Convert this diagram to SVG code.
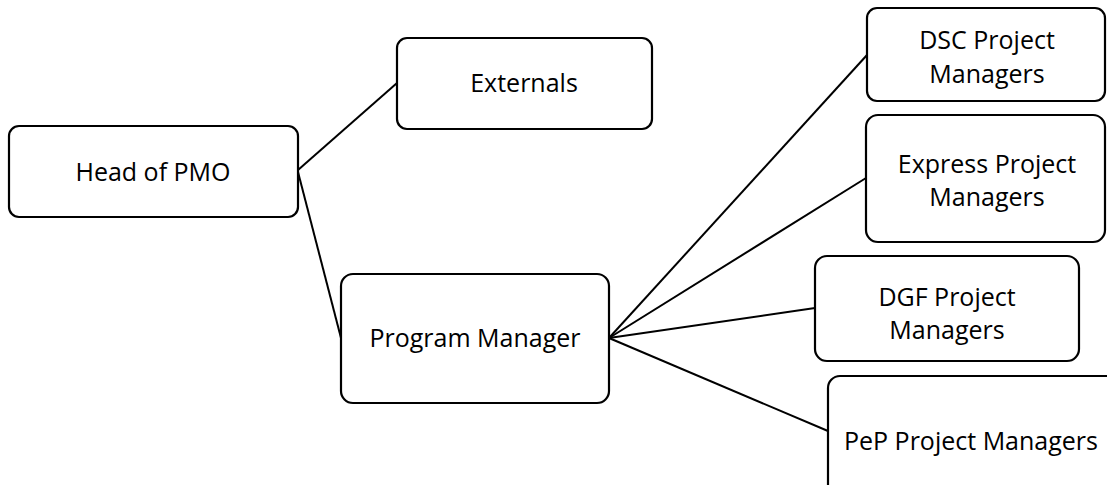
<svg xmlns="http://www.w3.org/2000/svg" width="1107" height="485" viewBox="0 0 1107 485">
  <style>
    .box { fill: #ffffff; stroke: #000000; stroke-width: 2.2; }
    .link { fill: none; stroke: #000000; stroke-width: 2; }
    .label { font-family: "Open Sans", "Liberation Sans", sans-serif; font-size: 25px; fill: #000000; text-anchor: middle; }
  </style>
  <rect width="1107" height="485" fill="#ffffff"/>

  <!-- connectors -->
  <g id="connectors">
    <line class="link" x1="298" y1="170" x2="397" y2="83"/>
    <line class="link" x1="298" y1="172" x2="341" y2="338"/>
    <line class="link" x1="609" y1="338" x2="867" y2="55"/>
    <line class="link" x1="609" y1="338" x2="866" y2="178"/>
    <line class="link" x1="609" y1="338" x2="815" y2="308"/>
    <line class="link" x1="609" y1="338" x2="828" y2="431"/>
  </g>

  <g id="head-of-pmo">
    <rect class="box" x="9" y="126" width="289" height="91" rx="10"/>
    <text class="label" x="153" y="181">Head of PMO</text>
  </g>

  <g id="externals">
    <rect class="box" x="397" y="38" width="255" height="91" rx="10"/>
    <text class="label" x="524" y="92">Externals</text>
  </g>

  <g id="program-manager">
    <rect class="box" x="341" y="274" width="268" height="129" rx="12"/>
    <text class="label" x="475" y="347">Program Manager</text>
  </g>

  <g id="dsc-project-managers">
    <rect class="box" x="867" y="8" width="238" height="93" rx="10"/>
    <text class="label" x="987" y="49">DSC Project</text>
    <text class="label" x="987" y="83">Managers</text>
  </g>

  <g id="express-project-managers">
    <rect class="box" x="866" y="115" width="239" height="127" rx="12"/>
    <text class="label" x="987" y="173">Express Project</text>
    <text class="label" x="987" y="206">Managers</text>
  </g>

  <g id="dgf-project-managers">
    <rect class="box" x="815" y="256" width="264" height="105" rx="12"/>
    <text class="label" x="947" y="306">DGF Project</text>
    <text class="label" x="947" y="339">Managers</text>
  </g>

  <g id="pep-project-managers">
    <rect class="box" x="828" y="376" width="300" height="125" rx="12"/>
    <text class="label" x="971" y="450">PeP Project Managers</text>
  </g>
</svg>
